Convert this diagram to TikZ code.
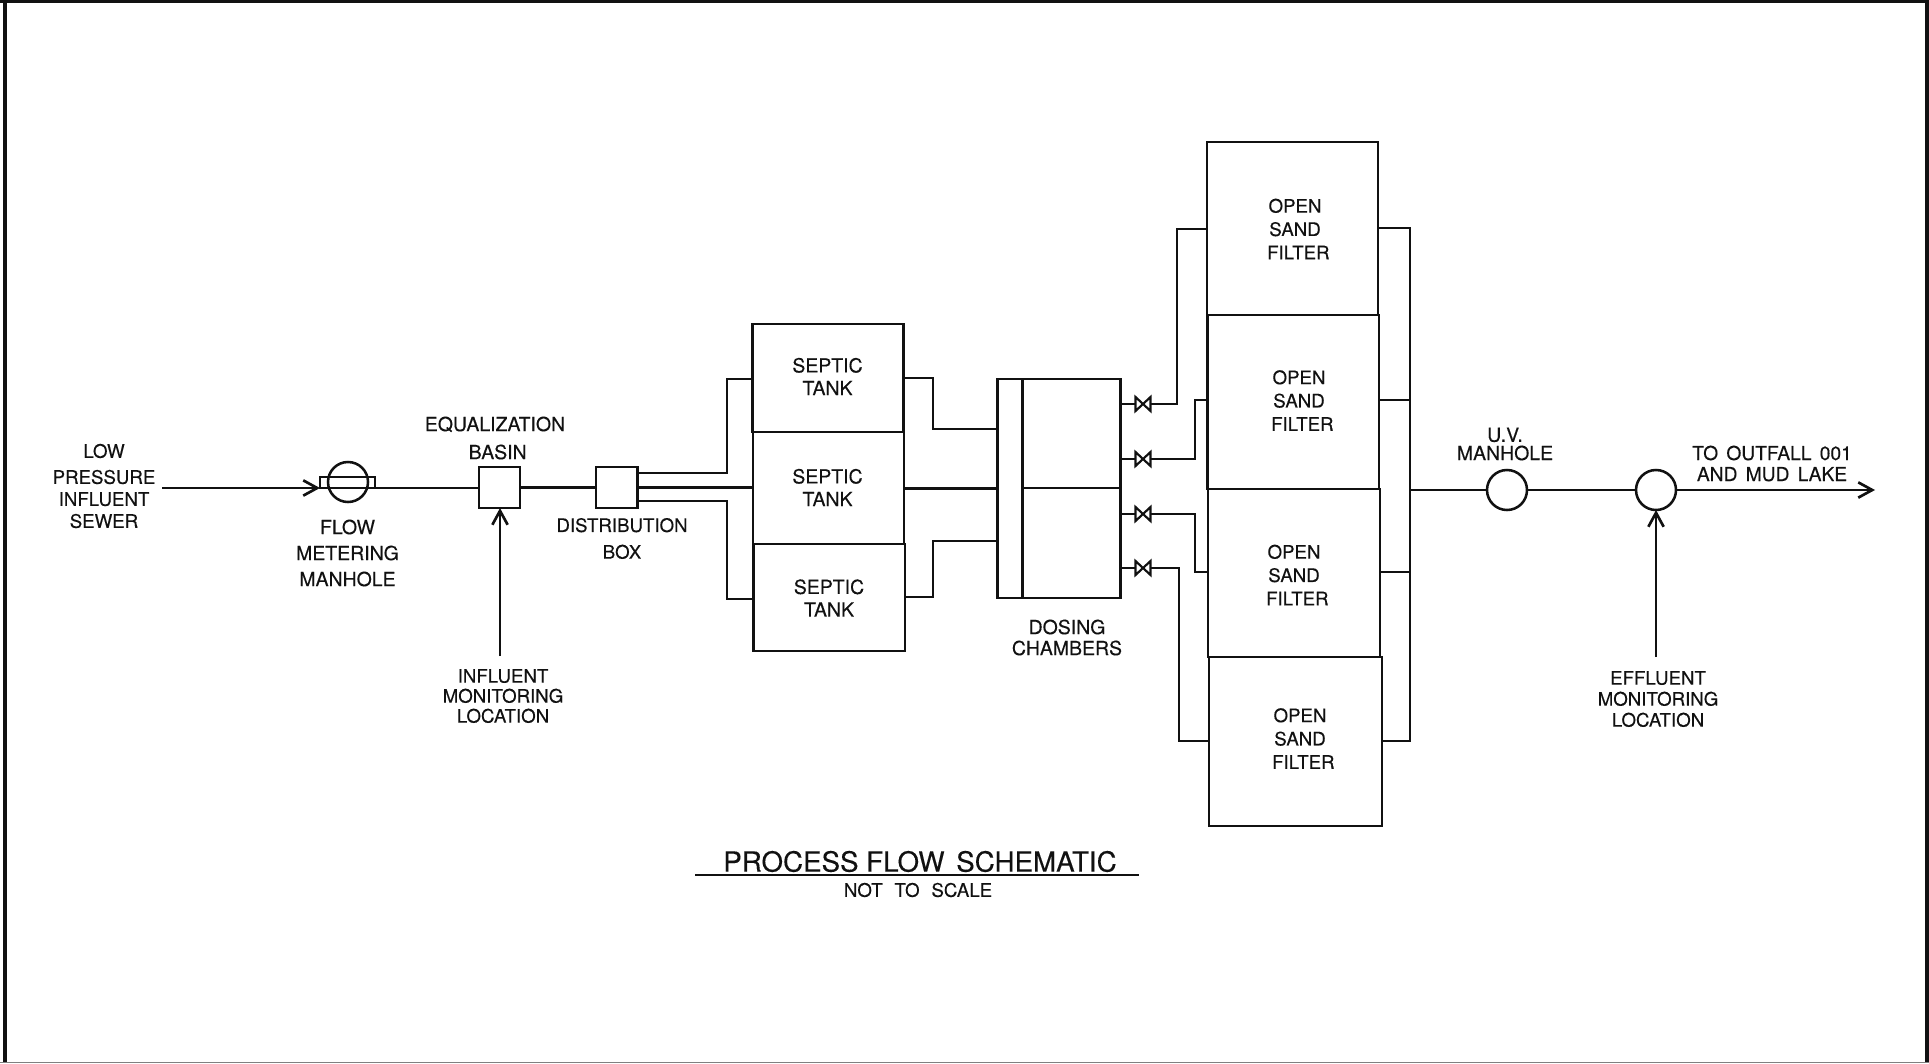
\documentclass[tikz,border=0pt]{standalone}
\usepackage{fontspec}
\setmainfont{TeX Gyre Heros}[FakeBold=0.25]
\usetikzlibrary{arrows.meta}
\newcommand{\cbox}[5]{\node[boxline, minimum width={(#4-#2)*0.75pt}, minimum height={(#5-#3)*0.75pt}] (#1) at ({(#2+#4)/2},{(#3+#5)/2}) {};}
\newcommand{\wsp}{\hspace{2.2pt}}
\tikzset{
  boxline/.style={draw=inkc, line width=2pt, rectangle, inner sep=0pt, outer sep=0pt, fill=none},
  pipe/.style={draw=inkc, line width=1.9pt, line join=miter},
  flow/.style={draw=inkc, line width=1.8pt, -{Straight Barb[length=10.5pt,width=11.5pt,line width=2pt]}},
  lbl/.style={font=\fontsize{14}{#1}\selectfont, align=center, inner sep=0pt, text=inkc},
  lbl/.default=17,
  lblw/.style={font=\fontsize{14.6}{#1}\selectfont, align=center, inner sep=0pt, text=inkc},
  ring/.style={draw=inkc, line width=1.9pt, circle, inner sep=0pt, outer sep=0pt, minimum size=30pt},
  valve/.pic={
    \draw[draw=inkc, line width=1.6pt, line join=miter] (-7.5,-7) -- (7.5,7) -- (7.5,-7) -- (-7.5,7) -- cycle;
    \coordinate (-in) at (-7.5,0);
    \coordinate (-out) at (7.5,0);
  }
}
\definecolor{inkc}{HTML}{111111}
\begin{document}
\begin{tikzpicture}[x=0.75pt,y=-0.75pt]
\useasboundingbox (0,0) rectangle (1929,1063);
% frame
\draw[inkc, line width=2.2pt] (0,1.5) -- (1929,1.5);
\draw[inkc, line width=2.6pt] (5,0) -- (5,1063);
\draw[inkc, line width=2.4pt] (1927,0) -- (1927,1063);
\draw[gray, line width=0.8pt] (0,1062.5) -- (1929,1062.5);

% inlet and flow meter
\node[lbl=16.5] (lowp) at (104,486) {LOW\\[3pt]PRESSURE\\INFLUENT\\SEWER};
\coordinate (infeed) at (162,488);
\coordinate (meterin) at (320,488);
\cbox{meterbar}{320}{477}{375}{488}
\node[ring] (meter) at (348,482) {};
\node[lblw=19.5] (meterlbl) at (347.5,553) {FLOW\\METERING\\MANHOLE};
\draw[flow] (infeed) -- (meterin);

% equalization and distribution
\cbox{eq}{479}{467}{520}{508}
\cbox{dist}{596}{467}{637.5}{508}
\draw[pipe] (meterbar.south east) -- (eq.west |- meterbar.south east);
\draw[pipe] (eq.east) -- (dist.west);
\node[lblw=21] (eqlbl) at (495,438) {EQUALIZATION\\\hspace{4pt}BASIN};
\node[lbl=20] (distlbl) at (622,538.5) {DISTRIBUTION\\BOX\hspace{7pt}};
\coordinate (inmon) at (500,656);
\draw[flow] (inmon) -- (eq.south -| inmon);
\node[lbl=15] (inmonlbl) at (503,696) {INFLUENT\\MONITORING\\LOCATION};

% septic tanks
\cbox{tankA}{752.5}{324}{903.5}{432}
\cbox{tankB}{753}{432}{904}{544}
\cbox{tankC}{753.5}{544}{905}{651}
\node[lblw=17] (tankAlbl) at (827.5,376.5) {SEPTIC\\TANK};
\node[lblw=17] (tankBlbl) at (827.5,487.5) {SEPTIC\\TANK};
\node[lblw=17] (tankClbl) at (829,598) {SEPTIC\\TANK};
\coordinate (dT) at (637.5,473);
\coordinate (dB) at (637.5,501);
\coordinate (sT) at (727,379);
\coordinate (sB) at (727,599);
\draw[pipe] (dT) -| (sT) -- (tankA.west |- sT);
\draw[pipe] (dB) -| (sB) -- (tankC.west |- sB);
\draw[pipe] (dist.east) -- (tankB.west |- dist.east);

% dosing chambers
\cbox{doshead}{997.5}{379}{1022.5}{598}
\cbox{dosU}{1022.5}{379}{1120.7}{488}
\cbox{dosL}{1022.5}{488}{1120.7}{598}
\node[lblw=15.75] (doslbl) at (1067,637.5) {DOSING\\CHAMBERS};
\coordinate (tA) at (903.5,378);
\coordinate (mA) at (933,429);
\coordinate (tC) at (905,597);
\coordinate (mC) at (933,541);
\draw[pipe] (tA) -| (mA) -- (doshead.west |- mA);
\draw[pipe] (tankB.east |- doshead.west) -- (doshead.west);
\draw[pipe] (tC) -| (mC) -- (doshead.west |- mC);

% valves
\pic (vA) at (1143,404) {valve};
\pic (vB) at (1143,459) {valve};
\pic (vC) at (1143,514) {valve};
\pic (vD) at (1143,568) {valve};
\draw[pipe] (dosU.east |- vA-in) -- (vA-in);
\draw[pipe] (dosU.east |- vB-in) -- (vB-in);
\draw[pipe] (dosL.east |- vC-in) -- (vC-in);
\draw[pipe] (dosL.east |- vD-in) -- (vD-in);

% open sand filters
\cbox{filtA}{1207}{142}{1378}{315}
\cbox{filtB}{1207.5}{315}{1379}{489}
\cbox{filtC}{1208}{489}{1380}{657}
\cbox{filtD}{1209}{657}{1382}{826}
\node[lbl=17.5] (filtAlbl) at (1295,229) {OPEN\hspace{8.5pt}\\SAND\\\hspace{5pt}FILTER};
\node[lbl=17.5] (filtBlbl) at (1299,400.5) {OPEN\hspace{8.5pt}\\SAND\\\hspace{5pt}FILTER};
\node[lbl=17.5] (filtClbl) at (1294,575) {OPEN\hspace{8.5pt}\\SAND\\\hspace{5pt}FILTER};
\node[lbl=17.5] (filtDlbl) at (1300,738.5) {OPEN\hspace{8.5pt}\\SAND\\\hspace{5pt}FILTER};
\coordinate (jA) at (1177,229);
\coordinate (jB) at (1195,400);
\coordinate (jC) at (1195,572);
\coordinate (jD) at (1179,741);
\draw[pipe] (vA-out) -| (jA) -- (filtA.west |- jA);
\draw[pipe] (vB-out) -| (jB) -- (filtB.west |- jB);
\draw[pipe] (vC-out) -| (jC) -- (filtC.west |- jC);
\draw[pipe] (vD-out) -| (jD) -- (filtD.west |- jD);

% collector
\coordinate (busT) at (1410,228);
\coordinate (busB) at (1410,741);
\coordinate (busB2) at (1410,400);
\coordinate (busC) at (1410,572);
\coordinate (busO) at (1410,490);
\draw[pipe] (filtA.east |- busT) -- (busT) -- (busB) -- (filtD.east |- busB);
\draw[pipe] (filtB.east |- busB2) -- (busB2);
\draw[pipe] (filtC.east |- busC) -- (busC);

% outlet
\node[ring] (uv) at (1507,490) {};
\node[ring] (eff) at (1656,490) {};
\node[lblw=13.75] (uvlbl) at (1505,444) {U.V.\hspace{7pt}\\MANHOLE};
\draw[pipe] (busO) -- (uv.west);
\draw[pipe] (uv.east) -- (eff.west);
\coordinate (outlet) at (1875,490);
\draw[flow] (eff.east) -- (outlet);
\node[font=\fontsize{14.4}{15.75}\selectfont, align=center, inner sep=0pt, text=inkc] (outlbl) at (1772,463.5) {TO\wsp{} OUTFALL\wsp{} 001\\AND\wsp{} MUD\wsp{} LAKE};
\coordinate (effmon) at (1656,657);
\draw[flow] (effmon) -- (eff.south);
\node[lbl=15.75] (effmonlbl) at (1658,699) {EFFLUENT\\MONITORING\\LOCATION};

% title
\node[font=\fontsize{20.8}{24}\selectfont, inner sep=0pt, text=inkc] (title) at (920,861.5) {PROCESS FLOW\hspace{3pt} SCHEMATIC};
\coordinate (ruleL) at (695,875);
\coordinate (ruleR) at (1139,875);
\draw[inkc, line width=2pt] (ruleL) -- (ruleR);
\node[font=\fontsize{14}{17}\selectfont, inner sep=0pt, text=inkc] (subtitle) at (918,890) {NOT\hspace{5pt} TO\hspace{5pt} SCALE};
\end{tikzpicture}
\end{document}
